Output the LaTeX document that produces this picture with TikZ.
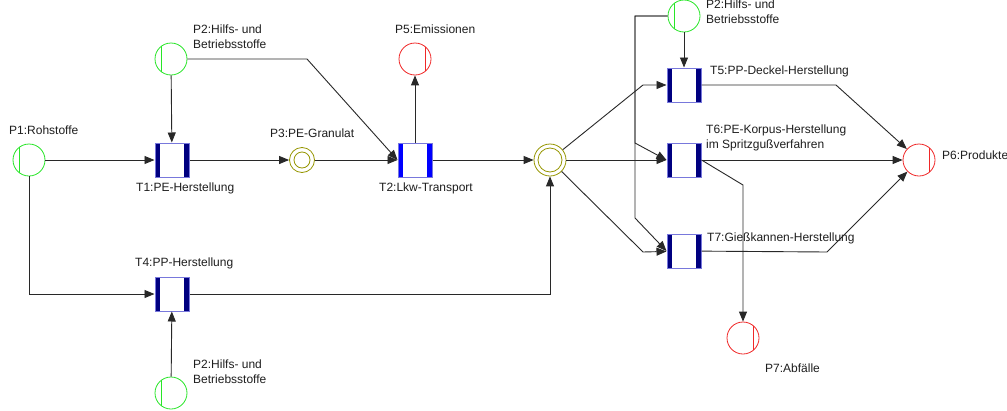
\documentclass[tikz,border=0pt]{standalone}
\usepackage{fontspec}
\setmainfont{Liberation Sans}
\usetikzlibrary{arrows.meta}
\definecolor{pgreen}{RGB}{40,230,40}
\definecolor{pred}{RGB}{240,40,40}
\definecolor{polive}{RGB}{150,150,0}
\definecolor{tnavy}{RGB}{0,0,128}
\definecolor{tblue}{RGB}{0,0,255}
\definecolor{tline}{RGB}{120,120,220}
\definecolor{arcc}{RGB}{40,40,40}
\definecolor{txt}{RGB}{30,30,30}
\begin{document}
\begin{tikzpicture}[x=1pt,y=-1pt,
  trans/.style={rectangle,minimum width=34pt,minimum height=34pt,inner sep=0pt,fill=white,draw=tline,line width=1pt,
    path picture={\fill[#1] (path picture bounding box.north west) rectangle ([xshift=5pt]path picture bounding box.south west);
      \fill[#1] (path picture bounding box.north east) rectangle ([xshift=-5pt]path picture bounding box.south east);}},
  trans/.default=tnavy,
  srcplace/.style={circle,minimum size=32pt,inner sep=0pt,draw=pgreen,line width=0.8pt,
    path picture={\draw[pgreen,line width=0.8pt] ([xshift=-10pt,yshift=20pt]path picture bounding box.center) -- ([xshift=-10pt,yshift=-20pt]path picture bounding box.center);}},
  sinkplace/.style={circle,minimum size=32pt,inner sep=0pt,draw=pred,line width=0.8pt,
    path picture={\draw[pred,line width=0.8pt] ([xshift=10pt,yshift=20pt]path picture bounding box.center) -- ([xshift=10pt,yshift=-20pt]path picture bounding box.center);}},
  midplace/.style={circle,inner sep=0pt,draw=polive,line width=0.8pt,
    path picture={\draw[polive,line width=0.8pt] (path picture bounding box.center) circle[radius=#1];}},
  lbl/.style={anchor=west,inner sep=0pt,text=txt,font=\fontsize{12}{15}\selectfont,align=left},
  flow/.style={draw=arcc,line width=0.9pt,-{Triangle[length=10pt,width=8pt]}}
]
\useasboundingbox (0,0) rectangle (1007,410);
\fill[white] (0,0) rectangle (1007,410);

% places
\node[srcplace] (p1) at (29,160) {};
\node[srcplace] (p2a) at (171,59) {};
\node[srcplace] (p2c) at (171,393) {};
\node[srcplace] (p2b) at (684,16) {};
\node[midplace=8pt,minimum size=25pt] (p3) at (302,160) {};
\node[midplace=12pt,minimum size=32pt] (p4) at (550,160) {};
\node[sinkplace] (p5) at (415,59) {};
\node[sinkplace] (p6) at (919,160) {};
\node[sinkplace] (p7) at (743,338) {};

% transitions
\node[trans] (t1) at (172,160) {};
\node[trans=tblue] (t2) at (415,160) {};
\node[trans] (t4) at (172,294) {};
\node[trans] (t5) at (684,85) {};
\node[trans] (t6) at (684,160) {};
\node[trans] (t7) at (684,251) {};

% labels
\node[lbl] (l1) at (9,130) {P1:Rohstoffe};
\node[lbl] (l2a) at (193,36.5) {P2:Hilfs- und\\Betriebsstoffe};
\node[lbl] (l2c) at (193,372) {P2:Hilfs- und\\Betriebsstoffe};
\node[lbl] (l2b) at (706,12) {P2:Hilfs- und\\Betriebsstoffe};
\node[lbl] (l3) at (270,133) {P3:PE-Granulat};
\node[lbl] (l5) at (395,29) {P5:Emissionen};
\node[lbl] (l6) at (942,155) {P6:Produkte};
\node[lbl] (l7) at (765,368) {P7:Abfälle};
\node[lbl] (lt1) at (136,188) {T1:PE-Herstellung};
\node[lbl] (lt2) at (379,188) {T2:Lkw-Transport};
\node[lbl] (lt4) at (135,263) {T4:PP-Herstellung};
\node[lbl] (lt5) at (710,71) {T5:PP-Deckel-Herstellung};
\node[lbl] (lt6) at (706,137.5) {T6:PE-Korpus-Herstellung\\im Spritzgußverfahren};
\node[lbl] (lt7) at (707,238) {T7:Gießkannen-Herstellung};

% bend coordinates
\coordinate (k1) at (307,59);
\coordinate (k2) at (643,85);
\coordinate (k3) at (643,252);
\coordinate (k4) at (635,16);
\coordinate (k5) at (635,143);
\coordinate (k6) at (635,218);
\coordinate (k7) at (836,85);
\coordinate (k8) at (827,252);
\coordinate (k9) at (743,185);

% connectors
\draw[flow] (p1) -- (t1);
\draw[flow] (p1) |- (t4);
\draw[flow] (p2a) -- (t1);
\draw[flow] (p2a) -- (k1) -- (t2.west);
\draw[flow] (t1) -- (p3);
\draw[flow] (p3) -- (t2);
\draw[flow] (t2) -- (p5);
\draw[flow] (t2) -- (p4);
\draw[flow] (t4) -| (p4);
\draw[flow] (p2c) -- (t4);
\draw[flow] (p4) -- (k2) -- (t5);
\draw[flow] (p4) -- (t6);
\draw[flow] (p4) -- (k3) -- (t7);
\draw[flow] (p2b) -- (t5);
\draw[flow] (p2b.west) -- (k4) -- (k5) -- (t6.west);
\draw[flow] (p2b.west) -- (k4) -- (k6) -- (t7.west);
\draw[flow] (t5) -- (k7) -- (p6);
\draw[flow] (t6) -- (p6);
\draw[flow] (t7) -- (k8) -- (p6);
\draw[flow] (t6.east) -- (k9) -- (p7);
\end{tikzpicture}
\end{document}
